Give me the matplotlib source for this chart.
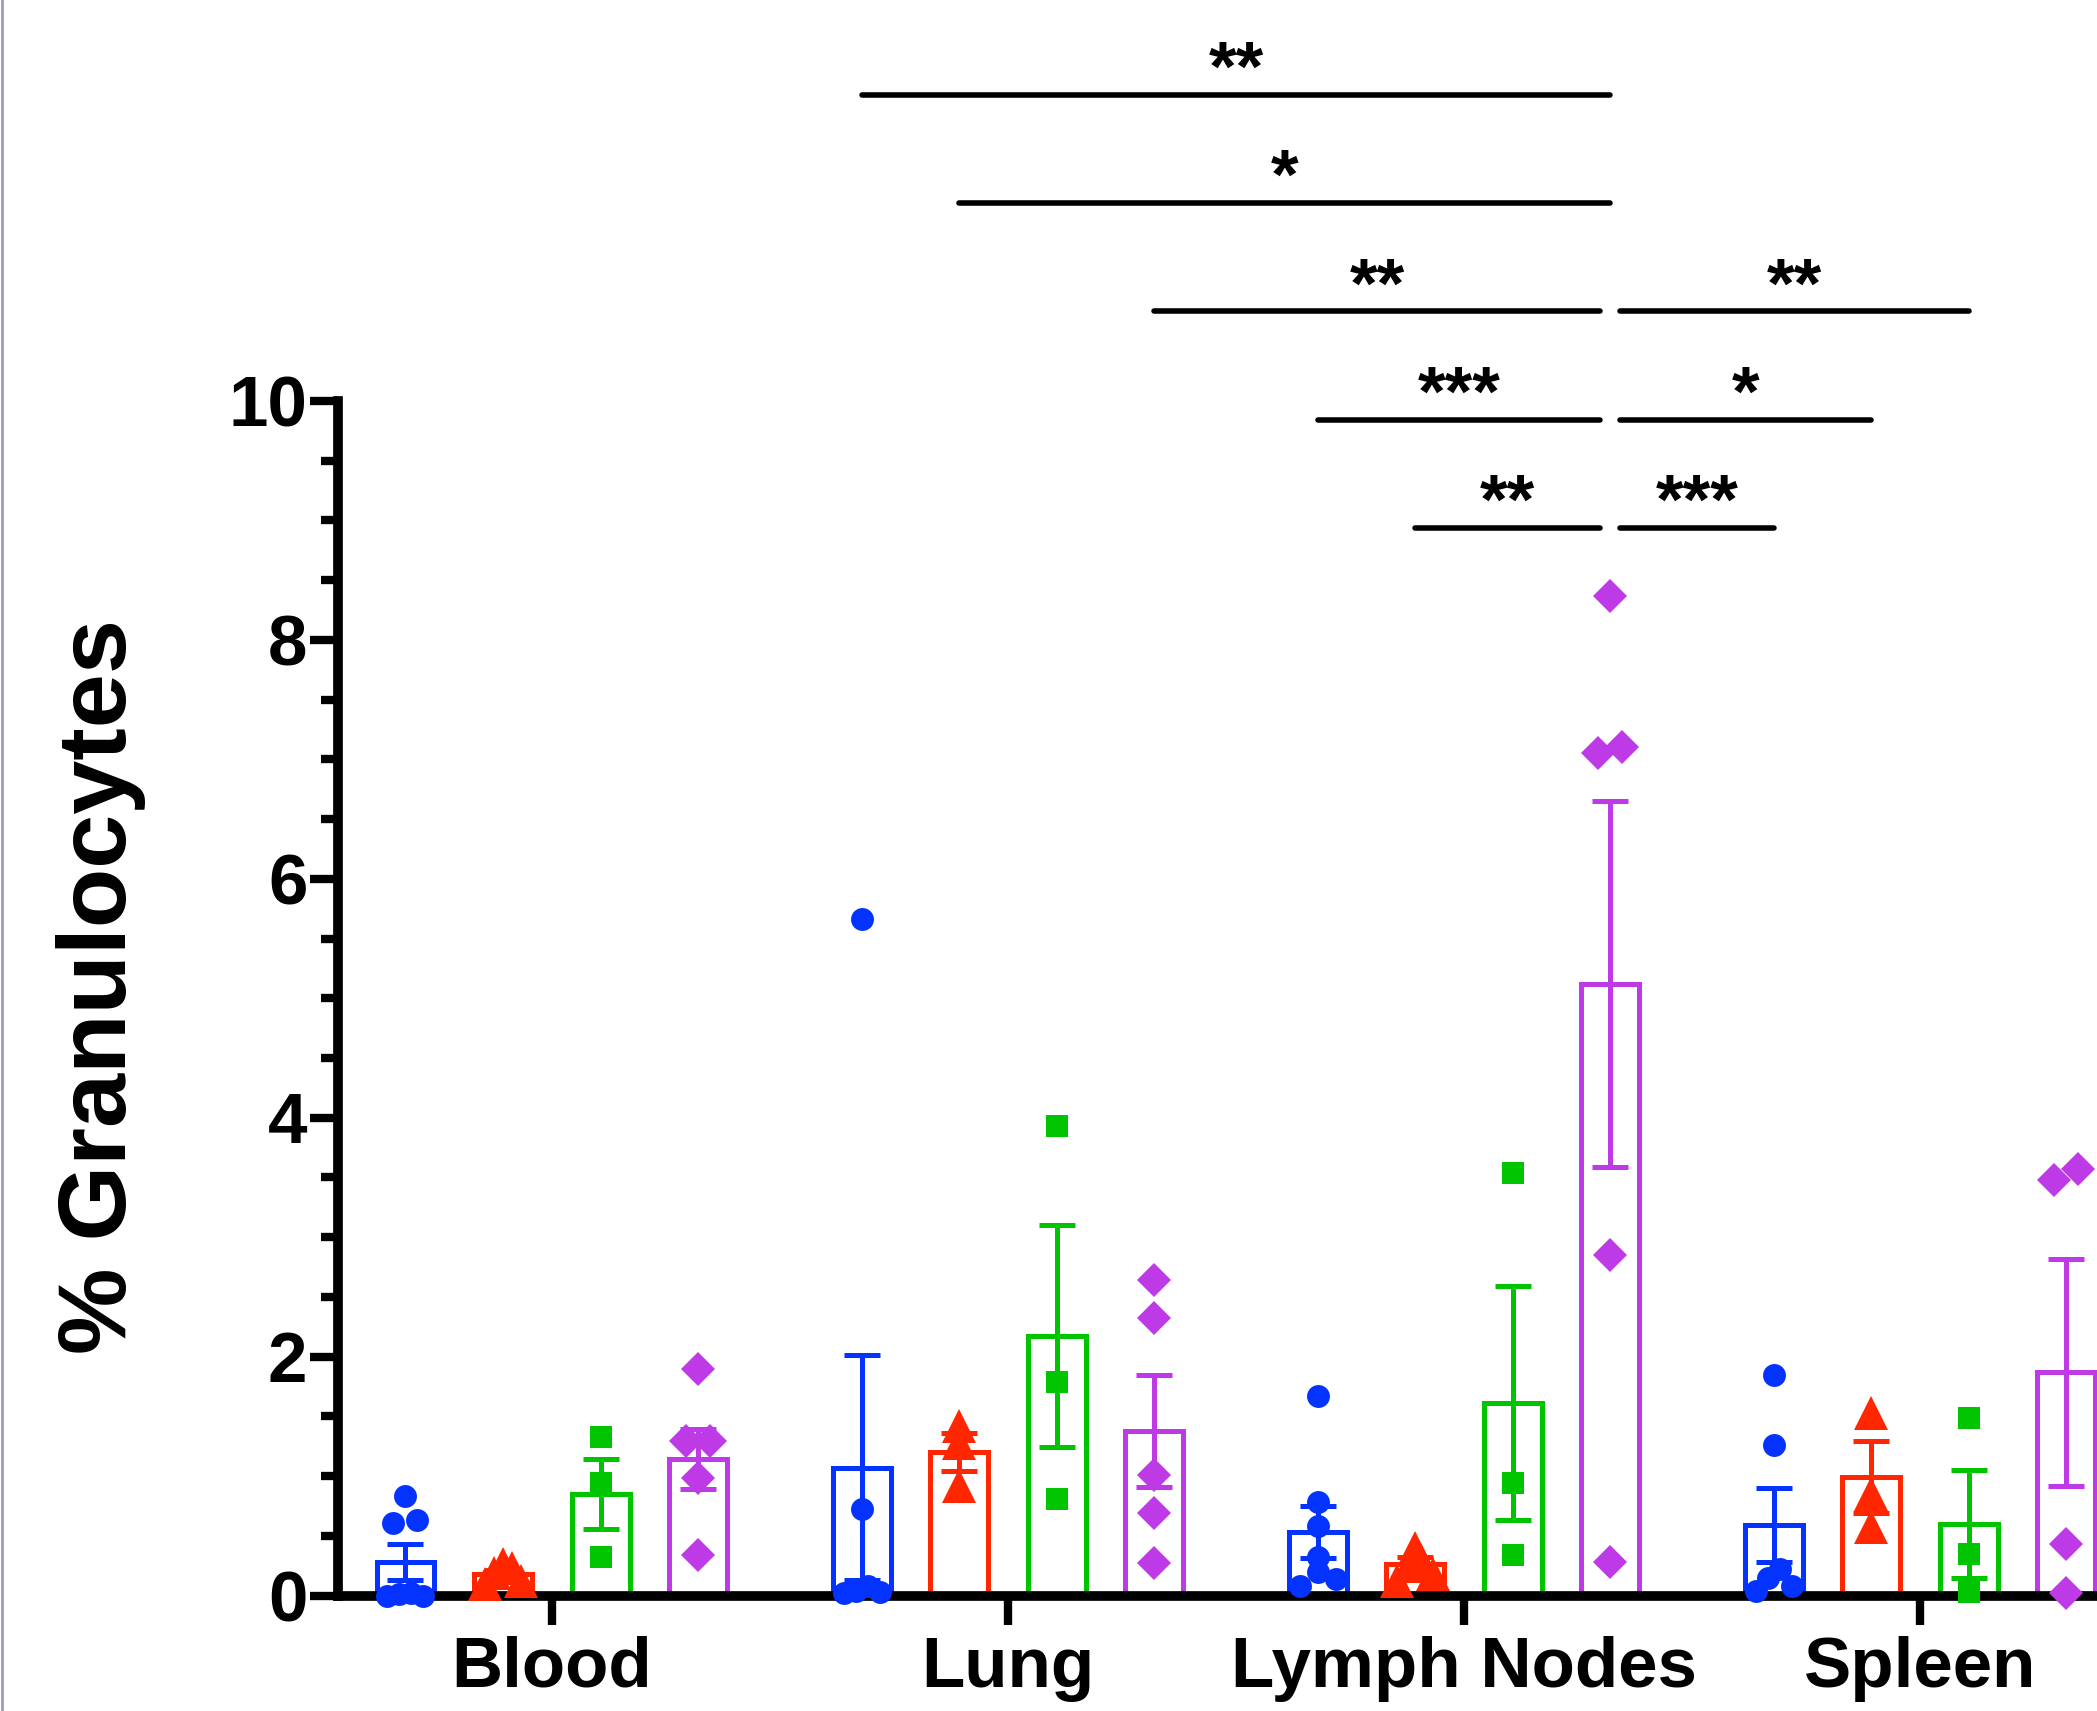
import matplotlib
matplotlib.use('Agg')
import matplotlib.pyplot as plt
import numpy as np
from matplotlib.lines import Line2D

plt.rcParams['font.family'] = ['Liberation Sans', 'DejaVu Sans']
plt.rcParams['font.weight'] = 'bold'

tissues = ['Blood', 'Lung', 'Lymph Nodes', 'Spleen']

# single animals, one list per tissue (Blood, Lung, Lymph Nodes, Spleen)
blue_pts = [[0.83, 0.63, 0.61, 0.02, 0.01, 0.0, 0.0],
            [5.66, 0.72, 0.08, 0.04, 0.02, 0.03],
            [1.67, 0.78, 0.58, 0.32, 0.20, 0.14, 0.08],
            [1.85, 1.26, 0.22, 0.15, 0.08, 0.04]]
red_pts = [[0.26, 0.23, 0.19, 0.12, 0.10],
           [1.42, 1.28, 0.92],
           [0.40, 0.30, 0.25, 0.18, 0.12],
           [1.53, 0.85, 0.57]]
green_pts = [[1.33, 0.94, 0.32],
             [3.93, 1.79, 0.81],
             [3.54, 0.94, 0.34],
             [1.49, 0.35, 0.03]]
purple_pts = [[1.90, 1.29, 1.29, 0.98, 0.34],
              [2.64, 2.32, 1.01, 0.69, 0.27],
              [8.37, 7.10, 7.05, 2.85, 0.28],
              [3.57, 3.48, 0.43, 0.02]]

# bar height (mean) and error bar (SEM) as drawn
blue_mean = [0.28, 1.07, 0.53, 0.59]
blue_sem = [0.15, 0.94, 0.22, 0.31]
red_mean = [0.18, 1.20, 0.26, 0.99]
red_sem = [0.03, 0.16, 0.06, 0.30]
green_mean = [0.85, 2.17, 1.61, 0.60]
green_sem = [0.29, 0.93, 0.98, 0.45]
purple_mean = [1.14, 1.38, 5.12, 1.87]
purple_sem = [0.25, 0.47, 1.53, 0.95]

# significance: (tissue a, group a), (tissue b, group b), row, stars
comparisons = [((1, 0), (2, 3), 4, '**'),
               ((1, 1), (2, 3), 3, '*'),
               ((1, 3), (2, 3), 2, '**'),
               ((2, 3), (3, 2), 2, '**'),
               ((2, 0), (2, 3), 1, '***'),
               ((2, 3), (3, 1), 1, '*'),
               ((2, 1), (2, 3), 0, '**'),
               ((2, 3), (3, 0), 0, '***')]

colors = ['#0433FF', '#FF2600', '#00C400', '#BE3AE6']
markers = ['o', '^', 's', 'D']
msizes = [16.5, 24, 16.5, 17.5]
all_pts = [blue_pts, red_pts, green_pts, purple_pts]
all_mean = [blue_mean, red_mean, green_mean, purple_mean]
all_sem = [blue_sem, red_sem, green_sem, purple_sem]

W, H = 2097, 1711
fig = plt.figure(figsize=(W / 100, H / 100), dpi=100)
ax = fig.add_axes([338 / W, 115.5 / H, 1 - 338 / W, 1194.5 / H])

xmin, xmax = -0.469, 3.388
ax.set_xlim(xmin, xmax)
ax.set_ylim(0, 10)
px = (xmax - xmin) / (ax.get_position().width * W)   # x data units per pixel

off = 0.214
bw = 0.127


def bar_x(t, g):
    return t + (g - 1.5) * off


def swarm(vals, center):
    # spread close values sideways, highest of a clump in the middle / right
    v = np.asarray(vals, float)
    order = np.argsort(v)
    s = v[order]
    clusters = [[0]]
    for k in range(1, len(s)):
        if s[k] - s[clusters[-1][-1]] < 0.1:
            clusters[-1].append(k)
        else:
            clusters.append([k])
    xs = np.zeros(len(s))
    for c in clusters:
        n = len(c)
        if n < 2:
            continue
        step = min(24, 36 / (n - 1)) * px
        slots = (np.arange(n) - (n - 1) / 2) * step
        slots = sorted(slots, key=lambda q: (abs(q), -q))
        for slot, k in zip(slots, sorted(c, key=lambda i: -s[i])):
            xs[k] = slot
    out = np.empty(len(s))
    out[order] = xs
    return center + out


for g in range(4):
    xs = [bar_x(t, g) for t in range(4)]
    ax.bar(xs, all_mean[g], width=bw, facecolor='none', edgecolor=colors[g],
           linewidth=3.6, zorder=2)
    for t in range(4):
        px_x = swarm(all_pts[g][t], xs[t])
        ax.plot(px_x, all_pts[g][t], ls='none', marker=markers[g], ms=msizes[g],
                color=colors[g], markeredgewidth=0, clip_on=False, zorder=4)
    eb = ax.errorbar(xs, all_mean[g], yerr=all_sem[g], fmt='none', ecolor=colors[g],
                     elinewidth=3.6, capsize=13.3, capthick=3.6, zorder=5)
    for art in eb.get_children():
        art.set_clip_on(False)

# significance lines
gap = 10 * px
for a, b, row, stars in comparisons:
    y = 8.94 + 0.905 * row
    x1, x2 = bar_x(*a), bar_x(*b)
    others = [c for c in comparisons if c[2] == row and (c[0], c[1]) != (a, b)]
    if any(c[0] == b for c in others):
        x2 -= gap
    if any(c[1] == a for c in others):
        x1 += gap
    ax.plot([x1, x2], [y, y], color='k', lw=4, solid_capstyle='round',
            clip_on=False, zorder=5)
    ax.annotate(stars, ((x1 + x2) / 2, y), xytext=(0, 3), textcoords='offset points',
                ha='center', va='baseline', fontsize=51, fontweight='bold',
                annotation_clip=False)

ax.spines['top'].set_visible(False)
ax.spines['right'].set_visible(False)
ax.spines['left'].set_linewidth(7)
ax.spines['bottom'].set_linewidth(7)
ax.spines['left'].set_bounds(0, 10)

ax.set_yticks(np.arange(0, 11, 2))
ax.set_yticks(np.arange(0, 10.01, 0.5), minor=True)
ax.set_xticks(range(4))
ax.set_xticklabels(tissues)
ax.tick_params(axis='y', which='major', length=20, width=6, pad=2, labelsize=51)
ax.tick_params(axis='y', which='minor', length=12, width=6)
ax.tick_params(axis='x', which='major', length=21, width=6, pad=8, labelsize=51)
for lab in ax.get_xticklabels() + ax.get_yticklabels():
    lab.set_fontweight('bold')

fig.text(101 / W, 1 - 986 / H, '% Granulocytes', rotation=90, ha='center',
         va='center', fontsize=70, fontweight='bold')

fig.add_artist(Line2D([0.0008, 0.0008], [0, 1], transform=fig.transFigure,
                      color='#9a9ac4', lw=2))

fig.savefig('out.png', dpi=100)
